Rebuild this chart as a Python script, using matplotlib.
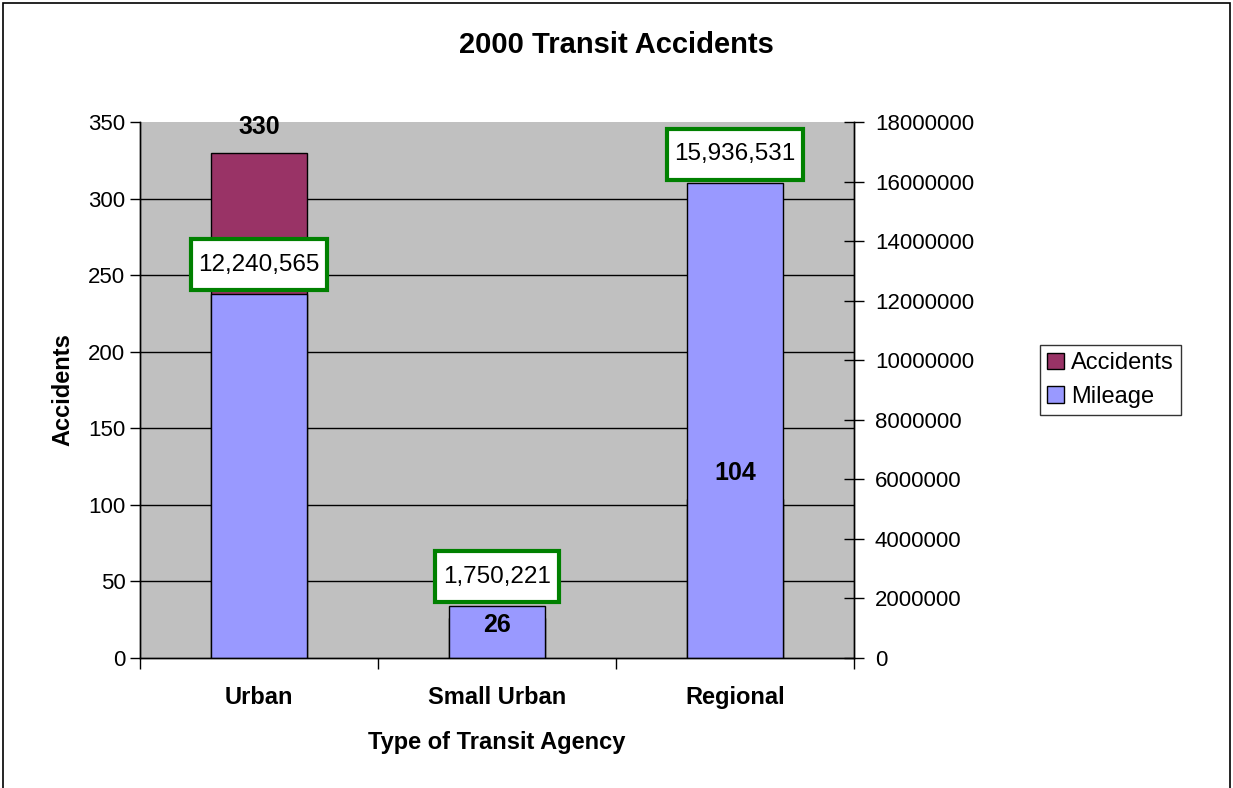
import numpy as np
import matplotlib
matplotlib.use("Agg")
import matplotlib.pyplot as plt
from matplotlib.patches import Rectangle
from matplotlib.path import Path
from matplotlib.ticker import FixedLocator

plt.rcParams["font.family"] = ["Liberation Sans", "DejaVu Sans"]

categories = ["Urban", "Small Urban", "Regional"]
accidents = [330, 26, 104]
mileage = [12240565, 1750221, 15936531]

colours = {
    "accidents": "#993366",
    "mileage": "#9999FF",
    "plot_bg": "#C0C0C0",
    "box": "#008000",
}


def label_box(x0, y0, width, height, mutation_size):
    # rectangle with more room above/below the text than at the sides
    px = 0.32 * mutation_size
    py = 0.6 * mutation_size
    x0, y0 = x0 - px, y0 - py
    x1, y1 = x0 + width + 2 * px, y0 + height + 2 * py
    return Path([(x0, y0), (x1, y0), (x1, y1), (x0, y1), (x0, y0)], closed=True)


fig = plt.figure(figsize=(12.33, 7.88), dpi=100)
ax = fig.add_axes([140 / 1233, 1 - 658 / 788, 714 / 1233, 536 / 788])
ax2 = ax.twinx()

x = np.arange(len(categories))
bar_w = 0.40

ax.set_facecolor(colours["plot_bg"])
ax.bar(x, accidents, width=bar_w, color=colours["accidents"],
       edgecolor="black", linewidth=1, label="Accidents", zorder=2)
ax2.bar(x, mileage, width=bar_w, color=colours["mileage"],
        edgecolor="black", linewidth=1, label="Mileage", zorder=2)

ax.set_xlim(-0.5, 2.5)
ax.set_ylim(0, 350)
ax2.set_ylim(0, 18000000)
ax.set_yticks(np.arange(0, 351, 50))
ax2.set_yticks(np.arange(0, 18000001, 2000000))
ax2.set_yticklabels([str(v) for v in range(0, 18000001, 2000000)])

# gridlines (no line on the top edge)
for yv in range(50, 350, 50):
    ax.axhline(yv, color="black", linewidth=1, zorder=1)

ax.set_xticks(x)
ax.set_xticklabels(categories, fontsize=17, fontweight="bold")
ax.xaxis.set_minor_locator(FixedLocator([-0.5, 0.5, 1.5, 2.5]))
ax.tick_params(axis="x", which="major", length=0, pad=20)
ax.tick_params(axis="x", which="minor", length=8, width=1, direction="out")
ax.tick_params(axis="y", labelsize=16, length=7, width=1, direction="out")
ax2.tick_params(axis="y", labelsize=16, length=14, width=1, direction="inout", pad=8)

for a in (ax, ax2):
    a.spines["top"].set_visible(False)
    for s in ("left", "right", "bottom"):
        a.spines[s].set_color("black")
        a.spines[s].set_linewidth(1)

ax.set_ylabel("Accidents", fontsize=17, fontweight="bold", labelpad=10)
ax.set_xlabel("Type of Transit Agency", fontsize=17, fontweight="bold", labelpad=16)

# accident labels (drawn on ax2 so they sit above the mileage bars)
acc_offsets = [26, -7, 26]
for xi, v, off in zip(x, accidents, acc_offsets):
    ax2.annotate(str(v), (xi, v), xycoords=ax.transData,
                 xytext=(0, off), textcoords="offset pixels",
                 ha="center", va="center", fontsize=18, fontweight="bold", zorder=5)

# mileage labels in green boxes
for xi, v in zip(x, mileage):
    ax2.annotate(f"{v:,}", (xi, v), xytext=(0, 29), textcoords="offset pixels",
                 ha="center", va="center", fontsize=17.5, zorder=6,
                 bbox=dict(boxstyle=label_box, facecolor="white",
                           edgecolor=colours["box"], linewidth=3))

fig.text(0.5, 1 - 45 / 788, "2000 Transit Accidents", ha="center", va="center",
         fontsize=21, fontweight="bold")

h1, l1 = ax.get_legend_handles_labels()
h2, l2 = ax2.get_legend_handles_labels()
leg = fig.legend(h1 + h2, l1 + l2, loc="center left",
                 bbox_to_anchor=(1040 / 1233, 1 - 380 / 788),
                 fontsize=17, frameon=True, fancybox=False,
                 handlelength=0.7, handleheight=0.7, handletextpad=0.3,
                 borderpad=0.3, labelspacing=0.5, borderaxespad=0)
leg.get_frame().set_edgecolor("black")
leg.get_frame().set_linewidth(1)

fig.patches.append(Rectangle((3 / 1233, -0.02), 1227 / 1233, 1.02 - 3 / 788,
                             transform=fig.transFigure, fill=False,
                             edgecolor="black", linewidth=1.2))

fig.savefig("out.png", dpi=100)
